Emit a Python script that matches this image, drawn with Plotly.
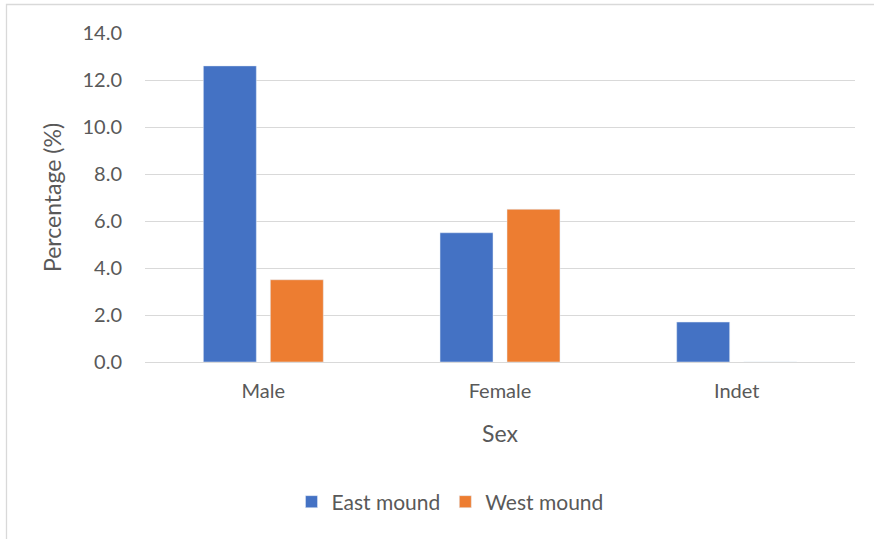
import plotly.graph_objects as go

categories = ["Male", "Female", "Indet"]
east_mound = [12.6, 5.5, 1.7]
west_mound = [3.5, 6.5, 0.0]
y_ticks = [0, 2, 4, 6, 8, 10, 12, 14]
y_tick_labels = ["0.0", "2.0", "4.0", "6.0", "8.0", "10.0", "12.0", "14.0"]

W, H = 874, 539
L, R, T, B = 145, 19, 33, 177
pw, ph = W - L - R, H - T - B

def px_x(p):
    return (p - L) / pw

def px_y(p):
    return (H - B - p) / ph

FONT = "Lato, 'Open Sans', sans-serif"
TXT = "#595959"

fig = go.Figure()
fig.add_trace(go.Bar(name="East mound", x=categories, y=east_mound, marker_color="#4472C4"))
fig.add_trace(go.Bar(name="West mound", x=categories, y=west_mound, marker_color="#ED7D31"))

fig.update_layout(
    width=W, height=H,
    margin=dict(l=L, r=R, t=T, b=B, autoexpand=False),
    paper_bgcolor="white", plot_bgcolor="white",
    barmode="group", bargap=0.434, bargroupgap=0.209,
    font=dict(family=FONT, color=TXT, size=20),
    showlegend=True,
    legend=dict(orientation="h", x=px_x(450), xanchor="center", y=px_y(502), yanchor="middle",
                font=dict(size=21, color=TXT), itemwidth=30, traceorder="normal"),
    xaxis=dict(showgrid=False, showline=False, ticks="", tickfont=dict(size=20, color=TXT),
               ticklabelstandoff=15,
               title=dict(text="Sex", font=dict(size=23, color=TXT), standoff=24)),
    yaxis=dict(range=[0, 14], tickvals=y_ticks, ticktext=y_tick_labels, showgrid=True,
               gridcolor="#D9D9D9", gridwidth=1.3, zeroline=True, zerolinecolor="#D9D9D9",
               zerolinewidth=1.3, showline=False, ticks="", ticklabelstandoff=22,
               tickfont=dict(size=20, color=TXT),
               title=dict(text="Percentage (%)", font=dict(size=23, color=TXT), standoff=14)),
    shapes=[dict(type="rect", xref="paper", yref="paper", x0=px_x(6.5), x1=px_x(890),
                 y0=px_y(560), y1=px_y(4.5), line=dict(color="#D9D9D9", width=1.3),
                 fillcolor="rgba(0,0,0,0)", layer="below")],
)

fig.write_html("out.html")
